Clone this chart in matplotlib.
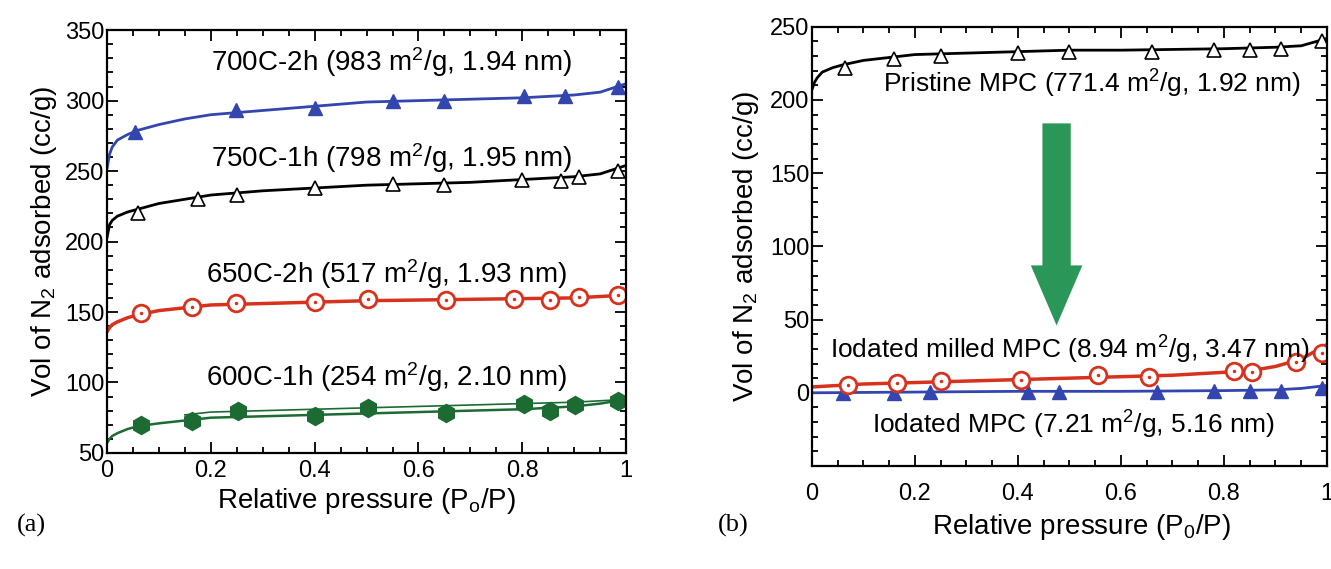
# N2 adsorption isotherms, two panels (a) and (b)

import numpy as np
import matplotlib.pyplot as plt
from matplotlib.patches import FancyArrow
from matplotlib.ticker import MultipleLocator

plt.rcParams['font.family'] = ['Liberation Sans', 'DejaVu Sans']
plt.rcParams['mathtext.fontset'] = 'custom'
plt.rcParams['mathtext.rm'] = 'Liberation Sans'
plt.rcParams['mathtext.it'] = 'Liberation Sans'

# ---- panel (a) data ----
x_line = [0, 0.005, 0.01, 0.02, 0.04, 0.06, 0.1, 0.15, 0.2, 0.3, 0.4, 0.5, 0.6, 0.7, 0.8, 0.9, 0.95, 1.0]
y_700 = [252, 262, 267, 272, 276, 279, 283, 287, 290, 293, 296, 299, 300, 301, 302, 304, 306, 312]
y_750 = [203, 212, 215, 218, 221, 223, 227, 230, 233, 236, 238, 240, 241, 242, 244, 246, 248, 254]
y_650 = [136, 139, 141, 143, 146, 148, 151, 153, 155, 156, 157, 158, 158.5, 159, 159.5, 160, 161, 162]
y_600 = [57, 60, 62, 64, 67, 69, 71, 73, 75, 76, 77, 78, 79, 80, 81, 83, 85, 88]
x_600_des = [0.15, 0.2, 0.3, 0.4, 0.5, 0.6, 0.7, 0.8, 0.9, 1.0]
y_600_des = [77, 79, 80, 81, 82, 83, 84, 85, 86, 88]

xm_700 = [0.053, 0.249, 0.40, 0.551, 0.649, 0.804, 0.882, 0.984]
ym_700 = [278, 293, 295, 300, 300, 303, 303, 310]
xm_750 = [0.06, 0.175, 0.25, 0.40, 0.55, 0.65, 0.80, 0.875, 0.91, 0.985]
ym_750 = [220, 230, 233, 238, 241, 240, 244, 243, 246, 250]
xm_650 = [0.065, 0.163, 0.249, 0.40, 0.502, 0.653, 0.784, 0.853, 0.91, 0.984]
ym_650 = [149, 153.5, 156.5, 157, 159, 158.5, 159.5, 158.5, 160.5, 162]
xm_600 = [0.065, 0.163, 0.253, 0.40, 0.502, 0.653, 0.804, 0.853, 0.902, 0.984]
ym_600 = [70, 73, 80, 76, 82, 78, 85, 80, 84, 87]

labels_a = ['700C-2h (983 m$^2$/g, 1.94 nm)', '750C-1h (798 m$^2$/g, 1.95 nm)',
            '650C-2h (517 m$^2$/g, 1.93 nm)', '600C-1h (254 m$^2$/g, 2.10 nm)']

# ---- panel (b) data ----
x_pri_line = [0, 0.005, 0.01, 0.02, 0.04, 0.06, 0.1, 0.15, 0.2, 0.3, 0.4, 0.5, 0.6, 0.7, 0.8, 0.9, 0.95, 1.0]
y_pri_line = [207, 212, 215, 219, 222, 224, 227, 229, 231, 232, 233, 234, 234, 234.5, 235, 236, 237, 242]
xm_pri = [0.065, 0.16, 0.25, 0.40, 0.50, 0.66, 0.78, 0.85, 0.91, 0.99]
ym_pri = [222, 228, 230, 232, 233, 233, 234, 234, 235, 240]

x_mil_line = [0, 0.1, 0.2, 0.3, 0.4, 0.5, 0.6, 0.7, 0.8, 0.85, 0.9, 0.95, 1.0]
y_mil_line = [4, 6, 7, 8, 9, 10, 11, 12, 14, 15, 18, 23, 33]
xm_mil = [0.07, 0.165, 0.25, 0.405, 0.555, 0.655, 0.82, 0.855, 0.94, 0.99]
ym_mil = [5, 7, 8, 9, 12, 11, 15, 14, 21, 27]

x_iod_line = [0, 0.2, 0.4, 0.6, 0.8, 0.9, 0.95, 1.0]
y_iod_line = [0, 0.5, 1, 1, 1.5, 2, 3, 5]
xm_iod = [0.06, 0.16, 0.23, 0.42, 0.48, 0.67, 0.78, 0.85, 0.91, 0.99]
ym_iod = [0, 0, 0.5, 0.5, 0.5, 0.5, 1, 1, 1.5, 3]

labels_b = ['Pristine MPC (771.4 m$^2$/g, 1.92 nm)',
            'Iodated milled MPC (8.94 m$^2$/g, 3.47 nm)',
            'Iodated MPC (7.21 m$^2$/g, 5.16 nm)']

blue = '#3346b0'
red = '#d8321e'
green = '#1b6b33'
arrow_green = '#2a9658'

fig = plt.figure(figsize=(13.31, 5.69), dpi=100)
ax1 = fig.add_axes([0.0804, 0.204, 0.390, 0.743])
ax2 = fig.add_axes([0.610, 0.181, 0.387, 0.772])


def style(ax):
    ax.tick_params(which='both', direction='in', top=True, right=True, labelsize=17, width=1.3)
    ax.tick_params(which='major', length=8, pad=2)
    ax.tick_params(which='minor', length=4)
    for s in ax.spines.values():
        s.set_linewidth(1.6)
    ax.xaxis.set_major_locator(MultipleLocator(0.2))
    ax.xaxis.set_minor_locator(MultipleLocator(0.05))
    ax.xaxis.set_major_formatter(plt.FuncFormatter(lambda v, p: '%g' % round(v, 2)))


# 面板 (a)
ax1.plot(x_line, y_700, color=blue, lw=2)
ax1.plot(xm_700, ym_700, ls='none', marker='^', ms=10, color=blue)
ax1.plot(x_line, y_750, color='black', lw=2)
ax1.plot(xm_750, ym_750, ls='none', marker='^', ms=10, mfc='white', mec='black', mew=1.2)
ax1.plot(x_line, y_650, color=red, lw=2.5)
ax1.plot(xm_650, ym_650, ls='none', marker='o', ms=12, mfc='white', mec=red, mew=2)
ax1.plot(xm_650, ym_650, ls='none', marker='.', ms=3, color=red)
ax1.plot(x_line, y_600, color=green, lw=1.8)
ax1.plot(x_600_des, y_600_des, color=green, lw=1.2)
ax1.plot(xm_600, ym_600, ls='none', marker='h', ms=13, color=green)

ax1.set_xlim(0, 1)
ax1.set_ylim(50, 350)
ax1.yaxis.set_major_locator(MultipleLocator(50))
ax1.yaxis.set_minor_locator(MultipleLocator(10))
style(ax1)
ax1.tick_params(axis='x', which='major', pad=5)
ax1.set_xlabel('Relative pressure (P$_\\mathrm{o}$/P)', fontsize=20, labelpad=3)
ax1.set_ylabel('Vol of N$_2$ adsorbed (cc/g)', fontsize=20, labelpad=4)

for lab, tx, ty in zip(labels_a, [0.548, 0.547, 0.539, 0.539], [327, 259, 177, 104]):
    ax1.text(tx, ty, lab, ha='center', va='center', fontsize=20)

# 面板 (b)
ax2.plot(x_pri_line, y_pri_line, color='black', lw=2)
ax2.plot(xm_pri, ym_pri, ls='none', marker='^', ms=10, mfc='white', mec='black', mew=1.2)
ax2.plot(x_iod_line, y_iod_line, color=blue, lw=2)
ax2.plot(xm_iod, ym_iod, ls='none', marker='^', ms=10, color=blue)
ax2.plot(x_mil_line, y_mil_line, color=red, lw=2.5)
ax2.plot(xm_mil, ym_mil, ls='none', marker='o', ms=12, mfc='white', mec=red, mew=2)
ax2.plot(xm_mil, ym_mil, ls='none', marker='.', ms=3, color=red)

ax2.set_xlim(0, 1)
ax2.set_ylim(-50, 250)
ax2.set_yticks([0, 50, 100, 150, 200, 250])
ax2.yaxis.set_minor_locator(MultipleLocator(10))
style(ax2)
ax2.tick_params(axis='x', which='major', pad=12)
ax2.set_xlabel('Relative pressure (P$_0$/P)', fontsize=20, labelpad=0)
ax2.set_ylabel('Vol of N$_2$ adsorbed (cc/g)', fontsize=20, labelpad=6)
ax2.xaxis.set_label_coords(0.524, -0.105)

ax2.add_patch(FancyArrow(0.475, 184, 0, -138, width=0.055, head_width=0.1,
                         head_length=41, length_includes_head=True,
                         color=arrow_green, lw=0))

ax2.text(0.543, 211, labels_b[0], ha='center', va='center', fontsize=19)
ax2.text(0.50, 29, labels_b[1], ha='center', va='center', fontsize=19)
ax2.text(0.508, -22, labels_b[2], ha='center', va='center', fontsize=19)

fig.text(0.013, 0.077, '(a)', family='Liberation Serif', fontsize=19, va='center')
fig.text(0.539, 0.077, '(b)', family='Liberation Serif', fontsize=19, va='center')

fig.savefig('out.png', dpi=100)
